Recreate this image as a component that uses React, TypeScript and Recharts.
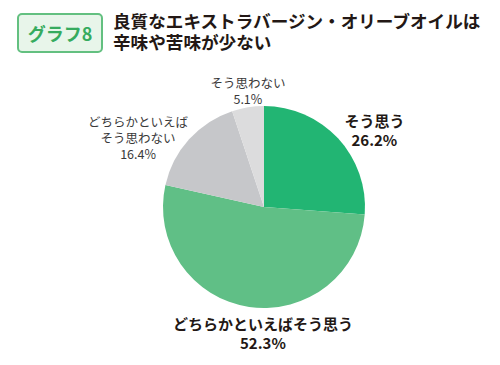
import React from "react";
import { PieChart, Pie, Cell } from "recharts";

const categories = ["そう思う", "どちらかといえばそう思う", "どちらかといえばそう思わない", "そう思わない"];
const labelLines = [["そう思う"], ["どちらかといえばそう思う"], ["どちらかといえば", "そう思わない"], ["そう思わない"]];
const values = [26.2, 52.3, 16.4, 5.1];
const colors = ["#22b573", "#60bf86", "#c6c7ca", "#dcdcdd"];
const titleBadge = "グラフ8";
const titleLines = ["良質なエキストラバージン・オリーブオイルは", "辛味や苦味が少ない"];

const data = categories.map((name, i) => ({ name, value: values[i] }));

const labelStyle = [
  { bold: true, nudge: [18, 8.5] },
  { bold: true, nudge: [17.5, 1.5] },
  { bold: false, nudge: [-32.5, 15] },
  { bold: false, nudge: [4, 7.5] },
];

const FONT = "'Noto Sans CJK JP', 'Noto Sans', sans-serif";
const RAD = Math.PI / 180;

const renderLabel = (props: any) => {
  const { cx, cy, midAngle, outerRadius, index, value } = props;
  const r = outerRadius + 25;
  const st = labelStyle[index];
  const bx = cx + r * Math.cos(-midAngle * RAD) + st.nudge[0];
  const by = cy + r * Math.sin(-midAngle * RAD) + st.nudge[1];
  const lines = [...labelLines[index], `${value.toFixed(1)}%`];
  const lh = st.bold ? 19 : 16;
  const y0 = by - ((lines.length - 1) * lh) / 2;
  return (
    <g>
      {lines.map((l, k) => (
        <text
          key={k}
          x={bx}
          y={y0 + k * lh}
          textAnchor="middle"
          dominantBaseline="central"
          fontFamily={FONT}
          fontSize={st.bold ? 15 : 12.5}
          fontWeight={st.bold ? 700 : 400}
          fill={st.bold ? "#231815" : "#3a3a3a"}
        >
          {l}
        </text>
      ))}
    </g>
  );
};

export default function App() {
  return (
    <div style={{ position: "absolute", left: 0, top: 0, width: 500, height: 365, background: "#fff", fontFamily: FONT }}>
      <div
        style={{
          position: "absolute",
          left: 17,
          top: 13,
          width: 82,
          height: 36,
          border: "2px solid #63c080",
          borderRadius: 5,
          background: "#e8f5ea",
          color: "#36ab5e",
          fontWeight: 700,
          fontSize: 18,
          display: "flex",
          alignItems: "center",
          justifyContent: "center",
          boxSizing: "content-box",
        }}
      >
        {titleBadge}
      </div>
      <div
        style={{
          position: "absolute",
          left: 113,
          top: 10,
          color: "#231815",
          fontWeight: 700,
          fontSize: 17.6,
          lineHeight: "21px",
          whiteSpace: "nowrap",
        }}
      >
        {titleLines.map((t, i) => (
          <div key={i}>{t}</div>
        ))}
      </div>
      <div style={{ position: "absolute", left: 0, top: 0 }}>
        <PieChart width={500} height={365}>
          <Pie
            data={data}
            dataKey="value"
            nameKey="name"
            cx={259}
            cy={202}
            outerRadius={101}
            startAngle={90}
            endAngle={-270}
            stroke="none"
            label={renderLabel}
            labelLine={false}
            isAnimationActive={false}
          >
            {data.map((d, i) => (
              <Cell key={i} fill={colors[i]} />
            ))}
          </Pie>
        </PieChart>
      </div>
    </div>
  );
}
